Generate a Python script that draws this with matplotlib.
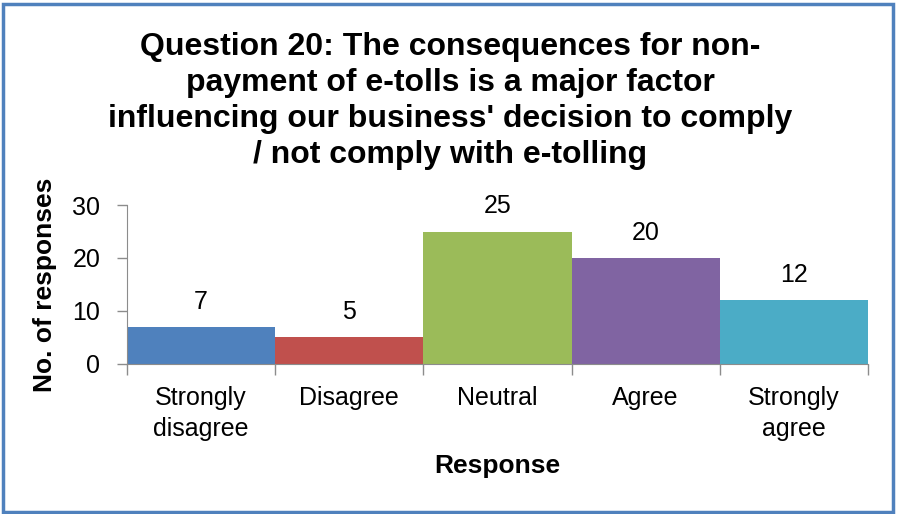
import matplotlib
matplotlib.use("Agg")
import matplotlib.pyplot as plt
from matplotlib.patches import Rectangle

plt.rcParams["font.family"] = ["Liberation Sans", "DejaVu Sans"]

# Dados
categorias = ["Strongly\ndisagree", "Disagree", "Neutral", "Agree", "Strongly\nagree"]
respostas = [7, 5, 25, 20, 12]
cores = ["#4F81BD", "#C0504D", "#9BBB59", "#8064A2", "#4BACC6"]

titulo = ("Question 20: The consequences for non-\n"
          "payment of e-tolls is a major factor\n"
          "influencing our business' decision to comply\n"
          "/ not comply with e-tolling")

fig = plt.figure(figsize=(8.97, 5.14), dpi=100)
ax = fig.add_axes([0.1413, 0.2924, 0.8264, 0.3086])

pos = range(len(respostas))
ax.bar(pos, respostas, width=1.0, color=cores, edgecolor="none", zorder=2)

for i, v in enumerate(respostas):
    ax.annotate(str(v), xy=(i, v), xytext=(0, 13), textcoords="offset points",
                ha="center", va="baseline", fontsize=18, color="black")

ax.set_xlim(-0.5, len(respostas) - 0.5)
ax.set_ylim(0, 30)
ax.set_yticks([0, 10, 20, 30])
ax.set_xticks([i - 0.5 for i in range(len(respostas) + 1)])
ax.set_xticklabels([])
ax.set_xticks(list(pos), minor=True)
ax.set_xticklabels(categorias, minor=True, fontsize=18, linespacing=1.38)
ax.tick_params(axis="x", which="minor", length=0, pad=16)
ax.tick_params(axis="x", which="major", length=8, color="#8c8c8c", width=1)
ax.tick_params(axis="y", length=7, color="#8c8c8c", width=1, labelsize=18, pad=12)

for s in ["top", "right"]:
    ax.spines[s].set_visible(False)
for s in ["left", "bottom"]:
    ax.spines[s].set_color("#8c8c8c")

ax.set_xlabel("Response", fontsize=19, fontweight="bold", va="center")
ax.xaxis.set_label_coords(0.5, -0.642)
ax.set_ylabel("No. of responses", fontsize=19, fontweight="bold", va="center")
ax.yaxis.set_label_coords(-0.11, 0.5)

fig.text(0.502, 0.803, titulo, ha="center", va="center", fontsize=23,
         fontweight="bold", linespacing=1.26)

# Moldura azul
fig.patches.append(Rectangle((0.003, 0.003), 0.993, 0.99, transform=fig.transFigure,
                             fill=False, edgecolor="#4F81BD", linewidth=2.5))

fig.savefig("out.png", dpi=100, facecolor="white")
